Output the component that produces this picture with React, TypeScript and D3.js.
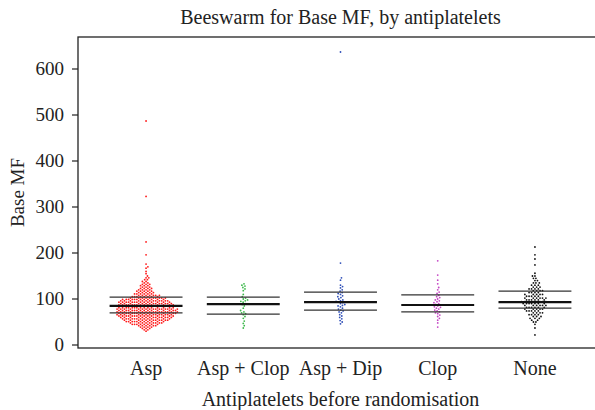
import React from "react";
import * as d3 from "d3";

// Groups on the x axis
const categories = ["Asp", "Asp + Clop", "Asp + Dip", "Clop", "None"];
const colors = ["#ff1a1a", "#3cb84a", "#2f4fb8", "#c444c4", "#111111"];

// Asp: many patients, kept as levels + counts
const aspLevels = [30, 33, 36, 39, 42, 45, 48, 51, 54, 57, 60, 63, 66, 69, 72, 75, 78, 81, 84, 87, 90, 93, 96, 99, 102, 105, 108, 111, 114, 117, 120, 123, 126, 129, 132, 135, 138, 142, 146, 150, 155, 160, 167, 170, 176, 196, 224, 323, 487];
const aspCounts = [1, 2, 3, 4, 6, 8, 9, 11, 12, 13, 14, 15, 15, 16, 16, 16, 16, 15, 15, 15, 14, 14, 13, 12, 10, 8, 7, 6, 5, 5, 4, 4, 3, 3, 3, 2, 2, 2, 2, 1, 1, 1, 1, 1, 1, 1, 1, 1, 1];

const aspClopMF = [133, 130, 128, 125, 122, 118, 110, 105, 102, 100, 98, 96, 95, 93, 90, 88, 85, 80, 75, 72, 70, 68, 66, 62, 58, 52, 47, 42, 37];
const aspDipMF = [637, 178, 146, 141, 130, 127, 124, 120, 117, 114, 112, 110, 107, 105, 103, 100, 98, 96, 95, 93, 92, 90, 88, 86, 85, 83, 80, 78, 76, 74, 72, 70, 66, 63, 60, 57, 53, 50, 46];
const clopMF = [183, 152, 141, 133, 125, 120, 115, 112, 108, 105, 103, 100, 98, 96, 94, 92, 90, 88, 87, 85, 83, 82, 80, 78, 76, 74, 72, 70, 68, 65, 62, 58, 54, 48, 39];

// None: levels + counts
const noneLevels = [22, 37, 45, 50, 54, 58, 62, 66, 70, 74, 78, 82, 86, 90, 94, 98, 102, 106, 110, 114, 118, 122, 126, 130, 135, 140, 145, 150, 156, 174, 187, 196, 213];
const noneCounts = [1, 1, 1, 2, 2, 3, 3, 4, 4, 5, 5, 6, 6, 7, 7, 6, 6, 5, 5, 4, 4, 4, 3, 3, 3, 2, 2, 2, 1, 1, 1, 1, 1];

// quartile / median lines
const q1 = [70, 67, 76, 72, 80];
const medians = [85, 89, 93, 87, 93];
const q3 = [104, 104, 115, 109, 117];

const yTicks = [0, 100, 200, 300, 400, 500, 600];

const expand = (levels: number[], counts: number[]) =>
  levels.flatMap((v, i) => d3.range(counts[i]).map(() => v));

const groups = [
  expand(aspLevels, aspCounts),
  aspClopMF,
  aspDipMF,
  clopMF,
  expand(noneLevels, noneCounts),
];

const width = 595;
const height = 410;
const left = 78, right = 603, top = 37, bottom = 348;
const font = "'Liberation Serif', 'DejaVu Serif', serif";

const x = d3.scaleLinear().domain([0.3, 5.7]).range([left, right]);
const y = d3.scaleLinear().domain([0, 600]).range([345, 69]);

// simple swarm: each point goes as close to the centre as it can without overlapping
function swarm(vals: number[], d: number) {
  const pts = vals.map(v => ({ y: y(v), x: 0 })).sort((a, b) => b.y - a.y);
  const placed: { x: number; y: number }[] = [];
  for (const p of pts) {
    const near = placed.filter(q => Math.abs(q.y - p.y) < d);
    const cands = [0];
    near.forEach(q => {
      const dx = Math.sqrt(d * d - (q.y - p.y) ** 2);
      cands.push(q.x + dx, q.x - dx);
    });
    cands.sort((a, b) => Math.abs(a) - Math.abs(b));
    const ok = cands.find(c =>
      near.every(q => (q.x - c) ** 2 + (q.y - p.y) ** 2 >= d * d - 1e-6)
    );
    p.x = ok ?? 0;
    placed.push(p);
  }
  return placed;
}

export default function App() {
  const lineHalf = 0.375;
  return (
    <svg width={width} height={height} style={{ position: "absolute", left: 0, top: 0, background: "#fff" }}
      fontFamily={font}>
      <text x={(left + right) / 2} y={24} fontSize={20} textAnchor="middle" fill="#222">
        Beeswarm for Base MF, by antiplatelets
      </text>

      <rect x={left} y={top} width={right - left} height={bottom - top} fill="none" stroke="#222" strokeWidth={1.3} />

      {/* y axis */}
      {yTicks.map(t => (
        <g key={t}>
          <line x1={left - 6} x2={left} y1={y(t)} y2={y(t)} stroke="#222" strokeWidth={1.2} />
          <text x={left - 14} y={y(t)} dy="0.33em" fontSize={19} textAnchor="end" fill="#222">{t}</text>
        </g>
      ))}
      <text transform={`translate(24,${(top + bottom) / 2}) rotate(-90)`} fontSize={19} textAnchor="middle" fill="#222">
        Base MF
      </text>

      {/* points */}
      {groups.map((vals, i) => (
        <g key={i} fill={colors[i]}>
          {swarm(vals, i === 0 ? 2.3 : 2.5).map((p, j) => (
            <circle key={j} cx={x(i + 1) + p.x} cy={p.y} r={0.9} />
          ))}
        </g>
      ))}

      {/* quartile lines */}
      {categories.map((c, i) => (
        <g key={c}>
          <line x1={x(i + 1 - lineHalf)} x2={x(i + 1 + lineHalf)} y1={y(q3[i])} y2={y(q3[i])} stroke="#333" strokeWidth={1.3} />
          <line x1={x(i + 1 - lineHalf)} x2={x(i + 1 + lineHalf)} y1={y(medians[i])} y2={y(medians[i])} stroke="#111" strokeWidth={2.2} />
          <line x1={x(i + 1 - lineHalf)} x2={x(i + 1 + lineHalf)} y1={y(q1[i])} y2={y(q1[i])} stroke="#333" strokeWidth={1.3} />
        </g>
      ))}

      {/* x labels */}
      {categories.map((c, i) => (
        <text key={c} x={x(i + 1)} y={375} fontSize={20} textAnchor="middle" fill="#222">{c}</text>
      ))}
      <text x={(left + right) / 2} y={406} fontSize={20} textAnchor="middle" fill="#222">
        Antiplatelets before randomisation
      </text>
    </svg>
  );
}
